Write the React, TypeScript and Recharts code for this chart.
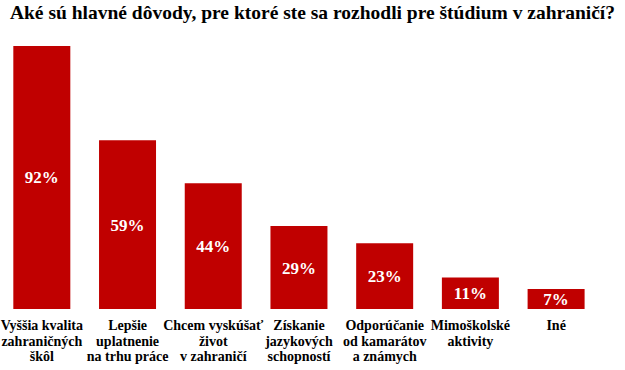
import { BarChart, Bar, XAxis, YAxis, LabelList } from "recharts";

const categoryLines: string[][] = [
  ["Vyššia kvalita", "zahraničných", "škôl"],
  ["Lepšie", "uplatnenie", "na trhu práce"],
  ["Chcem vyskúšať", "život", "v zahraničí"],
  ["Získanie", "jazykových", "schopností"],
  ["Odporúčanie", "od kamarátov", "a známych"],
  ["Mimoškolské", "aktivity"],
  ["Iné"],
];
const shares = [92, 59, 44, 29, 23, 11, 7];

const data = categoryLines.map((lines, i) => ({ name: lines.join(" "), idx: i, value: shares[i] }));

const serif = "Liberation Serif";

function CategoryTick({ x, y, payload }: any) {
  const lines = categoryLines[payload.index] ?? [];
  return (
    <text
      x={x}
      y={y + 13}
      textAnchor="middle"
      style={{ fontFamily: serif, fontWeight: "bold", fontSize: 14 }}
      fill="#000"
    >
      {lines.map((l, i) => (
        <tspan key={i} x={x} dy={i === 0 ? 0 : 15.5}>
          {l}
        </tspan>
      ))}
    </text>
  );
}

export default function App() {
  return (
    <div style={{ position: "absolute", left: 0, top: 0, width: 625, height: 370, background: "#fff", fontFamily: serif }}>
      <div
        style={{
          position: "absolute",
          left: 0,
          top: 2,
          width: 625,
          textAlign: "center",
          fontWeight: "bold",
          fontSize: 19.5,
          color: "#000",
          whiteSpace: "nowrap",
        }}
      >
        Aké sú hlavné dôvody, pre ktoré ste sa rozhodli pre štúdium v zahraničí?
      </div>
      <BarChart
        width={625}
        height={370}
        data={data}
        margin={{ top: 23, right: 26, bottom: 0, left: -1 }}
        barCategoryGap="16.7%"
        style={{ fontFamily: serif }}
      >
        <XAxis dataKey="name" axisLine={false} tickLine={false} height={61} interval={0} tick={<CategoryTick />} />
        <YAxis hide domain={[0, 100]} />
        <Bar dataKey="value" fill="#C00000" isAnimationActive={false}>
          <LabelList
            dataKey="value"
            position="center"
            formatter={(v: any) => `${v}%`}
            fill="#fff"
            style={{ fontFamily: serif, fontWeight: "bold", fontSize: 17 }}
          />
        </Bar>
      </BarChart>
    </div>
  );
}
